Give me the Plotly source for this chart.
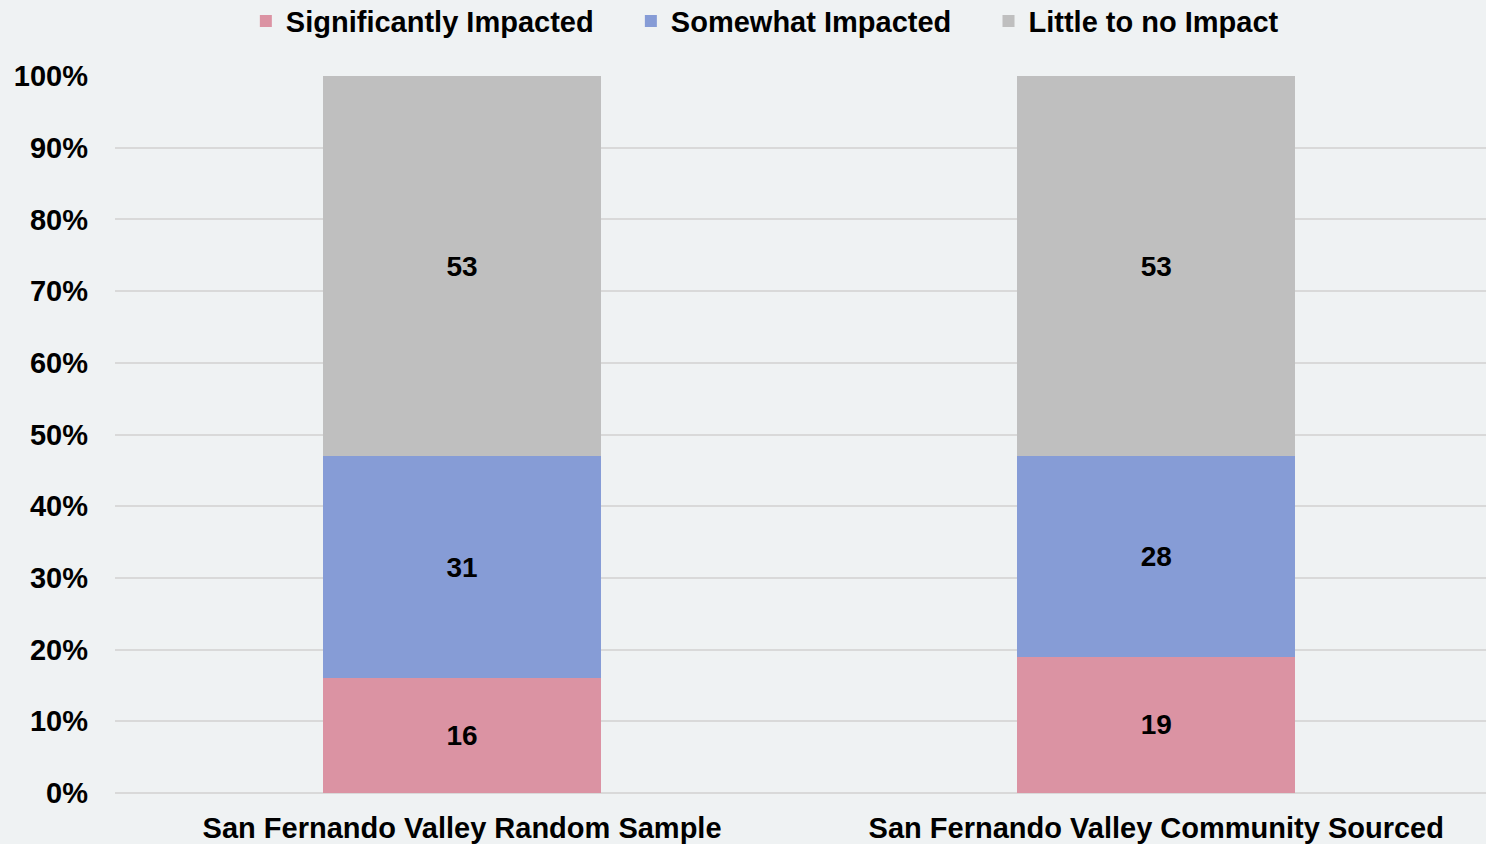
import plotly.graph_objects as go

categories = ["San Fernando Valley Random Sample", "San Fernando Valley Community Sourced"]
series_names = ["Significantly Impacted", "Somewhat Impacted", "Little to no Impact"]
significantly = [16, 19]
somewhat = [31, 28]
little = [53, 53]
colors = ["#DB93A3", "#869CD6", "#BFBFBF"]
y_ticks = [0, 10, 20, 30, 40, 50, 60, 70, 80, 90, 100]

FONT = "Liberation Sans, Arial, sans-serif"
PAD = "\u00a0" * 4
legend_names = [series_names[0] + PAD, series_names[1] + PAD, series_names[2]]

fig = go.Figure()
for name, vals, col in zip(legend_names, [significantly, somewhat, little], colors):
    fig.add_trace(go.Bar(
        x=categories, y=vals, name=name, marker_color=col, marker_line_width=0,
        text=[str(v) for v in vals], textposition="inside", insidetextanchor="middle",
        textfont=dict(family=FONT, size=28, color="black", weight="bold"),
    ))

fig.update_layout(
    barmode="stack", bargap=0.6,
    width=1486, height=844,
    paper_bgcolor="#EFF2F3", plot_bgcolor="#EFF2F3",
    margin=dict(l=115, r=0, t=76, b=51),
    font=dict(family=FONT, color="black", size=29, weight="bold"),
    uniformtext=dict(mode="show", minsize=10),
    legend=dict(orientation="h", x=0.474, xanchor="center", y=0.975, yanchor="middle",
                yref="container", font=dict(size=29, weight="bold"),
                traceorder="normal", bgcolor="rgba(0,0,0,0)"),
    showlegend=True,
)
fig.update_yaxes(range=[0, 100], tickvals=y_ticks, ticktext=[f"{t}%" for t in y_ticks],
                 showgrid=True, gridcolor="#D9D9D9", gridwidth=2, zeroline=True,
                 zerolinecolor="#D9D9D9", zerolinewidth=2, ticklabelstandoff=26,
                 tickfont=dict(size=29, weight="bold"))
fig.update_xaxes(range=[-0.5, 1.475], showgrid=False, ticklabelstandoff=15,
                 tickfont=dict(size=29, weight="bold"))

fig.write_html("out.html", config={"displayModeBar": False},
               post_script="document.body.style.margin='0px';")
